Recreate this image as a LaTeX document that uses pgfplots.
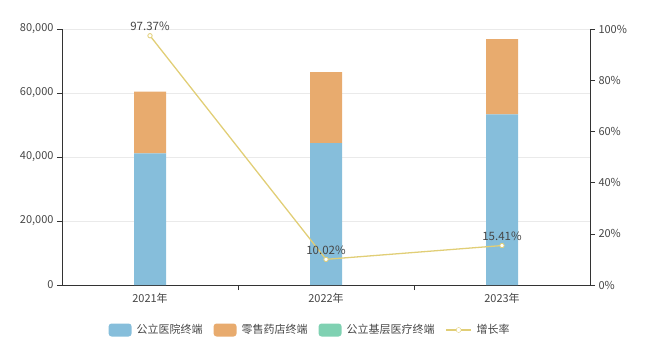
\documentclass[border=0pt]{standalone}
\usepackage{fontspec}
\setmainfont{Noto Sans CJK SC}
\usepackage{pgfplots}
\pgfplotsset{compat=1.18}
\definecolor{cblue}{RGB}{134,190,219}
\definecolor{corange}{RGB}{232,171,110}
\definecolor{cgreen}{RGB}{127,209,178}
\definecolor{cline}{RGB}{225,206,118}
\definecolor{caxis}{RGB}{51,51,51}
\definecolor{ctext}{RGB}{70,70,70}
\definecolor{cgrid}{RGB}{234,234,234}
\begin{document}
\begin{tikzpicture}[font=\fontsize{11bp}{13bp}\selectfont]
\useasboundingbox (-62bp,-68bp) rectangle (588bp,285bp);
\begin{axis}[
  at={(0,0)}, anchor=south west,
  scale only axis, width=528bp, height=256bp,
  xmin=-0.5, xmax=2.5, ymin=0, ymax=80000,
  axis x line*=bottom, axis y line*=left,
  axis line style={-, caxis},
  tick align=outside,
  ybar stacked, bar width=32bp,
  xtick={0,1,2}, xticklabels={2021年,2022年,2023年},
  major x tick style={draw=none},
  extra x ticks={0.5,1.5}, extra x tick labels={},
  extra x tick style={major x tick style={draw=caxis}, major tick length=5bp, grid=none},
  ytick={0,20000,40000,60000,80000},
  ymajorgrids, grid style={cgrid},
  major tick length=5bp,
  ytick style={caxis}, 
  tick label style={text=ctext},
  scaled y ticks=false,
  yticklabel style={/pgf/number format/.cd, fixed, 1000 sep={,}, assume math mode=true},
  legend columns=4,
  legend cell align=left,
  legend style={at={(0.47,0)}, anchor=center, yshift=-45bp, draw=none, fill=none,
     text=ctext,
     /tikz/every odd column/.append style={column sep=3bp},
     /tikz/every even column/.append style={column sep=9bp}},
]
\addplot[fill=cblue, draw=none,
  legend image code/.code={\fill[cblue, rounded corners=3bp] (0bp,-6.5bp) rectangle (23bp,6.5bp);}]
  coordinates {(0,41150) (1,44300) (2,53350)};
\addlegendentry{公立医院终端}
\addplot[fill=corange, draw=none,
  legend image code/.code={\fill[corange, rounded corners=3bp] (0bp,-6.5bp) rectangle (23bp,6.5bp);}]
  coordinates {(0,19250) (1,22250) (2,23500)};
\addlegendentry{零售药店终端}
\addplot[fill=cgreen, draw=none,
  legend image code/.code={\fill[cgreen, rounded corners=3bp] (0bp,-6.5bp) rectangle (23bp,6.5bp);}]
  coordinates {(0,0) (1,0) (2,0)};
\addlegendentry{公立基层医疗终端}
\addlegendimage{legend image code/.code={\draw[cline, line width=1.2pt] (0bp,0bp) -- (25bp,0bp); \draw[cline, fill=white] (12.5bp,0bp) circle (2.5bp);}}
\addlegendentry{增长率}
\end{axis}
\begin{axis}[
  at={(0,0)}, anchor=south west,
  scale only axis, width=528bp, height=256bp,
  xmin=-0.5, xmax=2.5, ymin=0, ymax=100,
  axis x line=none, axis y line*=right,
  axis line style={-, caxis},
  tick align=outside, major tick length=5bp,
  ytick={0,20,40,60,80,100},
  ytick style={caxis},
  tick label style={text=ctext},
  yticklabel={\pgfmathprintnumber[assume math mode=true]{\tick}\%},
]
\addplot[cline, line width=1.3pt, mark=*, mark size=2.2bp,
  mark options={fill=white, draw=cline, line width=0.8pt},
  nodes near coords, point meta=explicit symbolic,
  every node near coord/.append style={text=ctext, anchor=south, yshift=1bp, font=\fontsize{11.5bp}{13bp}\selectfont}]
  coordinates {(0,97.37) [97.37\%] (1,10.02) [10.02\%] (2,15.41) [15.41\%]};
\end{axis}
\end{tikzpicture}
\end{document}
